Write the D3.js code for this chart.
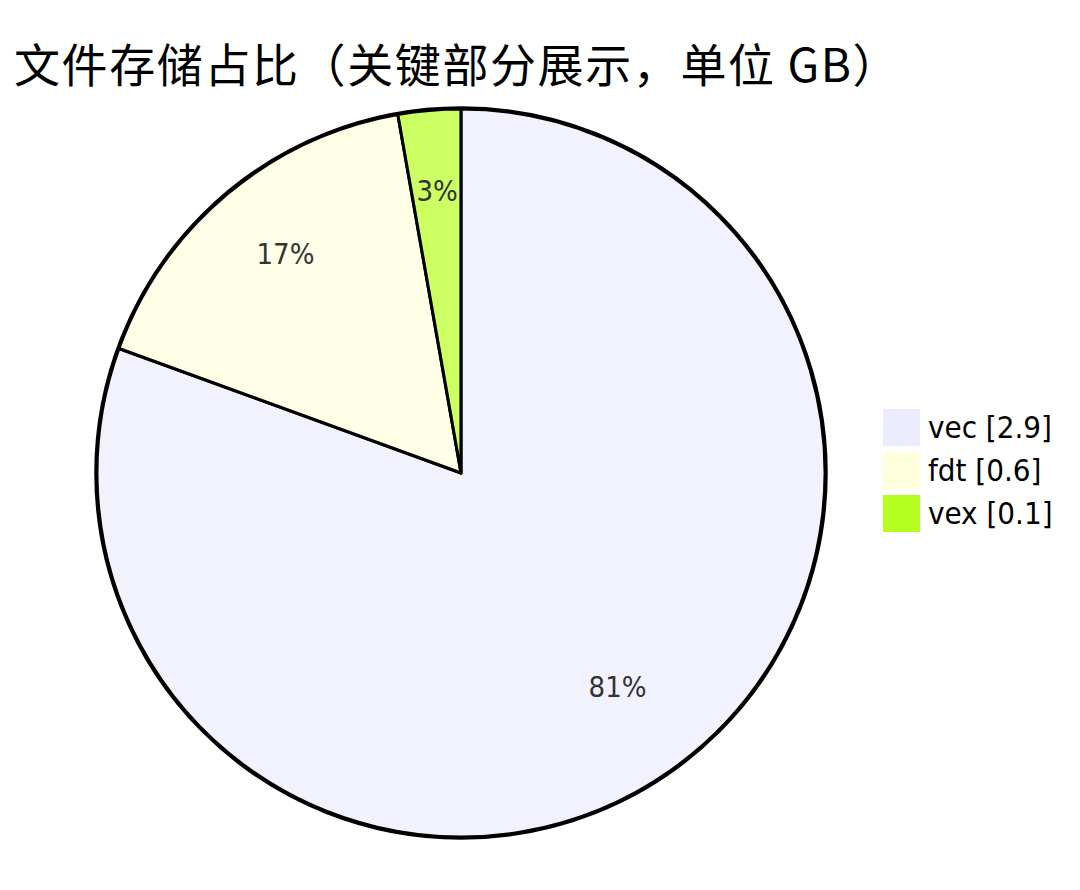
<!DOCTYPE html>
<html>
<head>
<meta charset="utf-8">
<script src="https://cdn.jsdelivr.net/npm/d3@7"></script>
<style>
  body { margin: 0; background: #fff; }
</style>
</head>
<body>
<script>
var w = 1080;
var h = 890;

// data
var labels = ["vec", "fdt", "vex"];
var values = [2.9, 0.6, 0.1];
var sliceColors = ["#ECECFF", "#ffffde", "#b5ff20"];
var titleText = "文件存储占比（关键部分展示，单位 GB）";

var data = labels.map(function (d, i) {
  return { label: d, value: values[i], color: sliceColors[i] };
});

var cx = 461, cy = 473, radius = 364;

var svg = d3.select("body").append("svg").attr("width", w).attr("height", h);

//Title
svg.append("text")
  .attr("x", 14)
  .attr("y", 82)
  .attr("font-family", "'Noto Sans CJK SC', sans-serif")
  .attr("font-size", "46px")
  .attr("letter-spacing", "1.6px")
  .attr("fill", "#000")
  .text(titleText);

var pie = d3.pie()
  .value(function (d) { return d.value; })
  .sort(null);

var arc = d3.arc().innerRadius(0).outerRadius(radius);
var labelArc = d3.arc().innerRadius(radius * 0.75).outerRadius(radius * 0.75);

var total = d3.sum(values);

var g = svg.append("g").attr("transform", "translate(" + cx + "," + cy + ")");

//outer ring
g.append("circle")
  .attr("r", radius + 1)
  .attr("fill", "none")
  .attr("stroke", "#000")
  .attr("stroke-width", 3.5);

g.selectAll("path")
  .data(pie(data))
  .enter()
  .append("path")
  .attr("d", arc)
  .attr("fill", function (d) { return d.data.color; })
  .attr("fill-opacity", 0.7)
  .attr("stroke", "#000")
  .attr("stroke-width", 3)
  .attr("stroke-linejoin", "round");

g.selectAll("text.pct")
  .data(pie(data))
  .enter()
  .append("text")
  .attr("class", "pct")
  .attr("transform", function (d) { return "translate(" + labelArc.centroid(d) + ")"; })
  .attr("text-anchor", "middle")
  .attr("font-family", "'DejaVu Sans Condensed', 'DejaVu Sans', sans-serif")
  .attr("font-size", "29px")
  .attr("fill", "#333")
  .text(function (d) { return Math.round((d.data.value / total) * 100) + "%"; });

//Legend
var legend = svg.selectAll("g.legend")
  .data(data)
  .enter()
  .append("g")
  .attr("class", "legend")
  .attr("transform", function (d, i) { return "translate(883," + (409 + i * 43) + ")"; });

legend.append("rect")
  .attr("width", 37)
  .attr("height", 37)
  .attr("fill", function (d) { return d.color; });

legend.append("text")
  .attr("x", 45)
  .attr("y", 29)
  .attr("font-family", "'DejaVu Sans Condensed', 'DejaVu Sans', sans-serif")
  .attr("font-size", "31px")
  .attr("fill", "#000")
  .text(function (d) { return d.label + " [" + d.value + "]"; });
</script>
</body>
</html>
